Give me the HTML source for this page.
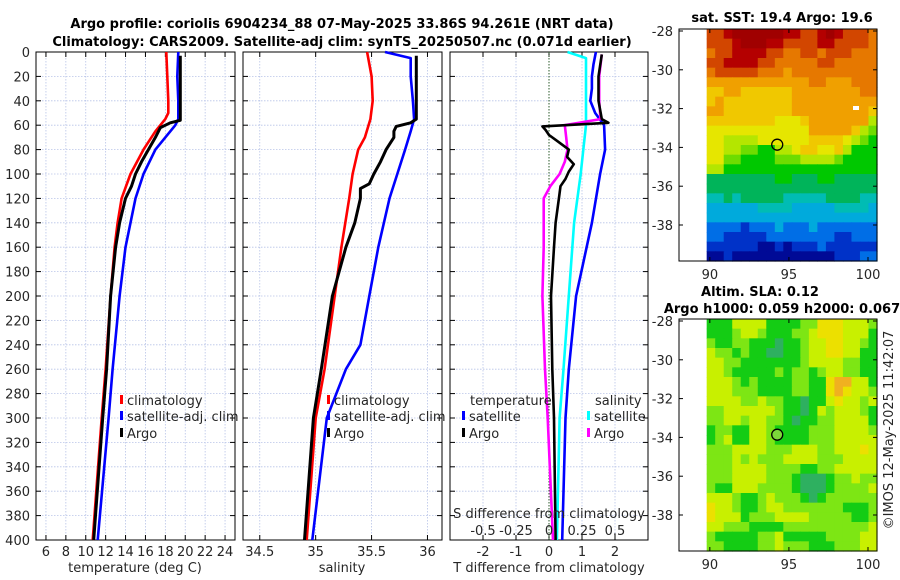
<!DOCTYPE html>
<html><head><meta charset="utf-8">
<style>
html,body{margin:0;padding:0;background:#fff;}
svg{display:block;font-family:"DejaVu Sans","Liberation Sans",sans-serif;}
</style></head>
<body>
<svg id="c" width="900" height="580" viewBox="0 0 900 580" xmlns="http://www.w3.org/2000/svg">
<text x="342" y="28" font-size="13" font-weight="bold" text-anchor="middle" fill="#000">Argo profile: coriolis 6904234_88 07-May-2025 33.86S 94.261E (NRT data)</text>
<text x="342" y="46" font-size="13" font-weight="bold" text-anchor="middle" fill="#000">Climatology: CARS2009. Satellite-adj clim: synTS_20250507.nc (0.071d earlier)</text>
<text x="782" y="22" font-size="13" font-weight="bold" text-anchor="middle">sat. SST: 19.4 Argo: 19.6</text>
<text x="760" y="296" font-size="13" font-weight="bold" text-anchor="middle">Altim. SLA: 0.12</text>
<text x="782" y="313" font-size="13" font-weight="bold" text-anchor="middle">Argo h1000: 0.059 h2000: 0.067</text>
<text x="0" y="0" font-size="13" fill="#262626" text-anchor="middle" transform="translate(893,430) rotate(-90)">©IMOS 12-May-2025 11:42:07</text>
</svg>
<script>
// ---------- data ----------
const depthTicks=[0,20,40,60,80,100,120,140,160,180,200,220,240,260,280,300,320,340,360,380,400];
const tTicks=[6,8,10,12,14,16,18,20,22,24];
const sTicks=[34.5,35,35.5,36];
const dTTicks=[-2,-1,0,1,2];
const dSTicks=[-0.5,-0.25,0,0.25,0.5];
const dSTickLabels=["-0.5","-0.25","0","0.25","0.5"];

const climTDepth=[0,20,40,50,55,65,80,100,120,140,160,200,260,300,400];
const climT=[18.1,18.2,18.3,18.3,18.0,17.0,15.8,14.5,13.6,13.2,12.9,12.5,12.0,11.6,10.7];
const satTDepth=[0,20,40,55,60,70,80,100,120,160,200,260,300,400];
const satT=[19.3,19.2,19.3,19.3,19.0,18.0,17.0,15.8,15.0,14.0,13.4,12.7,12.3,11.2];
const argoTDepth=[3,20,40,56,58,62,70,80,90,100,110,120,140,160,200,260,300,400];
const argoT=[19.5,19.5,19.5,19.5,18.5,17.5,17.0,16.3,15.6,15.0,14.6,14.0,13.4,13.0,12.5,12.1,11.7,10.8];

const climSDepth=[0,20,40,55,70,80,100,120,160,200,260,300,400];
const climS=[35.46,35.5,35.51,35.49,35.44,35.38,35.33,35.3,35.23,35.17,35.08,35.0,34.92];
const satSDepth=[0,5,20,40,55,65,80,100,120,160,200,240,260,300,400];
const satS=[35.62,35.85,35.85,35.87,35.88,35.85,35.8,35.73,35.66,35.56,35.48,35.4,35.27,35.1,34.97];
const argoSDepth=[3,20,40,55,58,61,65,70,80,90,100,108,112,120,140,160,200,260,300,400];
const argoS=[35.9,35.9,35.9,35.9,35.85,35.72,35.7,35.7,35.63,35.58,35.52,35.48,35.4,35.4,35.35,35.27,35.15,35.05,34.98,34.9];

const dTArgoDepth=[2,20,40,55,58,61,64,68,72,76,80,86,92,98,104,110,120,140,160,200,260,300,400];
const dTArgo=[1.6,1.5,1.5,1.6,1.8,-0.2,-0.1,0.0,0.2,0.4,0.6,0.55,0.75,0.6,0.5,0.35,0.3,0.2,0.15,0.06,0.1,0.15,0.2];
const dTSatDepth=[0,10,20,30,40,50,60,80,100,140,200,260,300,400];
const dTSat=[1.42,1.35,1.3,1.3,1.25,1.4,1.67,1.7,1.55,1.3,0.82,0.6,0.5,0.4];
const dSSatDepth=[0,5,20,40,60,80,100,140,200,260,300,400];
const dSSat=[0.14,0.28,0.28,0.28,0.28,0.26,0.24,0.19,0.15,0.11,0.08,0.06];
const dSArgoDepth=[2,20,40,55,60,70,80,90,100,110,120,160,200,260,300,400];
const dSArgo=[0.4,0.38,0.38,0.39,0.12,0.13,0.14,0.12,0.08,0.01,-0.04,-0.04,-0.05,-0.03,-0.01,0.03];

// map grids (20 cols x 24 rows), hex level per cell
const sstRows=["DDEFFFFFFEEDDEFEDDDC","DDDEFFFEEDDDDEEDDDDC","CDDEEEEDDCCDDCDDDCCC","DDEEEEDDCCCCCDDCCCCC","CDDDDDCCCBCCCCCCCCCC","BBBBBBBBBBBBCCBBBCCC","AABBAAAAAABBBBBBBBCC","ABAAAAAAAABBBBBBBBBB","BBAAAAAAAABBBBBBBBBA","AAAAAAAA999ABBBBBBB8","999999999999BBBBBA87","998888999999AAAA9876","99887766889AA99A8666","99776666777888876666","88666666666666666666","55555555665556655555","55555555555555555555","44545555544444555544","33333344443333344443","33333333333333333333","22221222322232222222","22111112222222211222","11111100101112111111","00100000000000011122"];
const slaRows=["11133331111224443332","11123321112234443331","21122111011233443321","32212110011233443311","33221111111233332211","33211111212212332211","33321211112211455331","33322211112211454332","33332232211011343323","22333333211013233321","22332332210112233331","12211332111122233332","12311332111122233333","22233332223332233343","22232322233332223333","22233332222112233333","22233332221000122322","21133322221000122223","33321123222101222222","43321123322222221112","43331222333322222112","33222111122222222223","21111122311111222233","22111122322211122233"];

// ---------- helpers ----------
const svg=document.getElementById('c');
const NS='http://www.w3.org/2000/svg';
function mk(tag,attrs,parent){const e=document.createElementNS(NS,tag);for(const k in attrs)e.setAttribute(k,attrs[k]);(parent||svg).appendChild(e);return e;}
const Y0=52,Y1=540;
const yD=d=>Y0+(d/400)*(Y1-Y0);
const P1={x0:36,x1:235,min:5,max:25};
const P2={x0:243,x1:442,min:34.35,max:36.13};
const P3={x0:450,x1:648,min:-3,max:3};
const sx=(p,v)=>p.x0+(v-p.min)/(p.max-p.min)*(p.x1-p.x0);
const sxS3=v=>sx(P3,v*4);

function panel(p,name,vticks,tickFn){
  const g=mk('g',{});
  
  
  depthTicks.forEach(d=>{const l=mk('line',{x1:p.x0,x2:p.x1,y1:yD(d),y2:yD(d),stroke:'#b8c4e8','stroke-width':0.8,'stroke-dasharray':'1.5,1.5'},g);
    
    mk('line',{x1:p.x0,x2:p.x0+5,y1:yD(d),y2:yD(d),stroke:'#000'},g);mk('line',{x1:p.x1,x2:p.x1-5,y1:yD(d),y2:yD(d),stroke:'#000'},g);});
  vticks.forEach(v=>{const x=tickFn(v);const l=mk('line',{x1:x,x2:x,y1:Y0,y2:Y1,stroke:'#b8c4e8','stroke-width':0.8,'stroke-dasharray':'1.5,1.5'},g);
    
    mk('line',{x1:x,x2:x,y1:Y1,y2:Y1-5,stroke:'#000'},g);mk('line',{x1:x,x2:x,y1:Y0,y2:Y0+5,stroke:'#000'},g);});
  const r=mk('rect',{x:p.x0,y:Y0,width:p.x1-p.x0,height:Y1-Y0,fill:'none',stroke:'#000','stroke-width':1},g);
  
  return g;
}
function line(xs,ds,fx,color,name,w){
  const pts=xs.map((v,i)=>fx(v).toFixed(1)+','+yD(ds[i]).toFixed(1)).join(' ');
  const e=mk('polyline',{points:pts,fill:'none',stroke:color,'stroke-width':w||2.6,'stroke-linejoin':'round'});
  
  
}
function txt(x,y,s,opts,name){const e=mk('text',Object.assign({x:x,y:y,'font-size':13,fill:'#262626'},opts||{}));e.textContent=s;
  return e;}

// panel 1
panel(P1,'temperature-panel',tTicks,v=>sx(P1,v));
depthTicks.forEach(d=>txt(30,yD(d)+5,String(d),{'text-anchor':'end'},'y-tick-label'));
tTicks.forEach(v=>txt(sx(P1,v),556,String(v),{'text-anchor':'middle'},'x-tick-label'));
txt(135,572,'temperature (deg C)',{'text-anchor':'middle'},'temperature-axis-title');
line(climT,climTDepth,v=>sx(P1,v),'#f00','temp-climatology-line');
line(satT,satTDepth,v=>sx(P1,v),'#00f','temp-satellite-line');
line(argoT,argoTDepth,v=>sx(P1,v),'#000','temp-argo-line',3);

// panel 2
panel(P2,'salinity-panel',sTicks,v=>sx(P2,v));
sTicks.forEach(v=>txt(sx(P2,v),556,String(v),{'text-anchor':'middle'},'x-tick-label'));
txt(342,572,'salinity',{'text-anchor':'middle'},'salinity-axis-title');
line(climS,climSDepth,v=>sx(P2,v),'#f00','sal-climatology-line');
line(satS,satSDepth,v=>sx(P2,v),'#00f','sal-satellite-line');
line(argoS,argoSDepth,v=>sx(P2,v),'#000','sal-argo-line',3);

// panel 3
panel(P3,'difference-panel',dTTicks,v=>sx(P3,v));
dTTicks.forEach(v=>txt(sx(P3,v),556,String(v),{'text-anchor':'middle'},'x-tick-label'));
txt(549,572,'T difference from climatology',{'text-anchor':'middle'},'t-diff-axis-title');
const zl=mk('line',{x1:sx(P3,0),x2:sx(P3,0),y1:Y0,y2:Y1,stroke:'#2a5a2a','stroke-width':1,'stroke-dasharray':'1.5,1.5'});

line(dTSat,dTSatDepth,v=>sx(P3,v),'#00f','t-diff-satellite-line');
line(dSSat,dSSatDepth,sxS3,'#0ff','s-diff-satellite-line');
line(dSArgo,dSArgoDepth,sxS3,'#f0f','s-diff-argo-line');
line(dTArgo,dTArgoDepth,v=>sx(P3,v),'#000','t-diff-argo-line');
txt(549,518,'S difference from climatology',{'text-anchor':'middle'},'s-diff-axis-title');
dSTicks.forEach((v,i)=>txt(sxS3(v),535,dSTickLabels[i],{'text-anchor':'middle'},'s-diff-tick-label'));

// legends
function legEntry(x,y,color,label,name){
  const b=mk('rect',{x:x,y:y-10,width:3,height:9,fill:color});
  
  txt(x+7,y,label,{},name);
}
[[120,'temp'],[327,'sal']].forEach(([lx,k])=>{
  legEntry(lx,405,'#f00','climatology',k+'-legend-climatology');
  legEntry(lx,421,'#00f','satellite-adj. clim',k+'-legend-satellite');
  legEntry(lx,438,'#000','Argo',k+'-legend-argo');
});
txt(470,405,'temperature',{},'legend-temperature-header');
legEntry(462,421,'#00f','satellite','legend-t-satellite');
legEntry(462,438,'#000','Argo','legend-t-argo');
txt(595,405,'salinity',{},'legend-salinity-header');
legEntry(587,421,'#0ff','satellite','legend-s-satellite');
legEntry(587,438,'#f0f','Argo','legend-s-argo');

// ---------- maps ----------
const sstColors=['#000a96','#0032c8','#006ee6','#00aadc','#00bcb4','#00b45a','#00c800','#6edc00','#b4e600','#e6e600','#f0c800','#f0a000','#e67800','#d24600','#b40000','#a00000'];
const slaColors=['#2eb060','#14cc14','#7de614','#c8f000','#ece000','#f0b020'];
const MX0=679,MX1=877,LON0=88.05,LON1=100.57,DLON0=89.8;
const mxs=lon=>MX0+(lon-LON0)/(LON1-LON0)*(MX1-MX0);
function map(top,bottom,latTop,rows,colorFn,name){
  const g=mk('g',{});
  
  
  const pxDeg=19.4;
  const my=lat=>top+2+(latTop-lat)*pxDeg;
  const nr=rows.length,nc=rows[0].length;
  const x0=mxs(DLON0),x1=MX1,cw=(x1-x0)/nc,ch=(bottom-top)/nr;
  rows.forEach((row,i)=>{for(let j=0;j<nc;j++){
    const v=parseInt(row[j],16);
    mk('rect',{x:(x0+j*cw).toFixed(2),y:(top+i*ch).toFixed(2),width:(cw+0.6).toFixed(2),height:(ch+0.6).toFixed(2),fill:colorFn(v)},g);
  }});
  const f=mk('rect',{x:MX0,y:top,width:MX1-MX0,height:bottom-top,fill:'none',stroke:'#000'},g);
  
  [-28,-30,-32,-34,-36,-38].forEach(l=>{const y=my(l);mk('line',{x1:MX0,x2:MX0+4,y1:y,y2:y,stroke:'#000'},g);mk('line',{x1:MX1,x2:MX1-4,y1:y,y2:y,stroke:'#000'},g);
    txt(MX0-6,y+5,String(l),{'text-anchor':'end'},'map-lat-label');});
  [90,95,100].forEach(l=>{const x=mxs(l);mk('line',{x1:x,x2:x,y1:bottom,y2:bottom-4,stroke:'#000'},g);mk('line',{x1:x,x2:x,y1:top,y2:top+4,stroke:'#000'},g);
    txt(x,bottom+18,String(l),{'text-anchor':'middle'},'map-lon-label');});
  return my;
}
const my1=map(29,261,-28,sstRows,v=>sstColors[v],'sst-map');
mk('rect',{x:853,y:106,width:6,height:4,fill:'#fff'});
const m1=mk('circle',{cx:mxs(94.261),cy:my1(-33.86),r:5.5,fill:'none',stroke:'#000','stroke-width':1.3});

const my2=map(319,551,-28,slaRows,v=>slaColors[v],'sla-map');
const m2=mk('circle',{cx:mxs(94.261),cy:my2(-33.86),r:5.5,fill:'#7cd83a',stroke:'#000','stroke-width':1.3});

</script>
</body></html>
